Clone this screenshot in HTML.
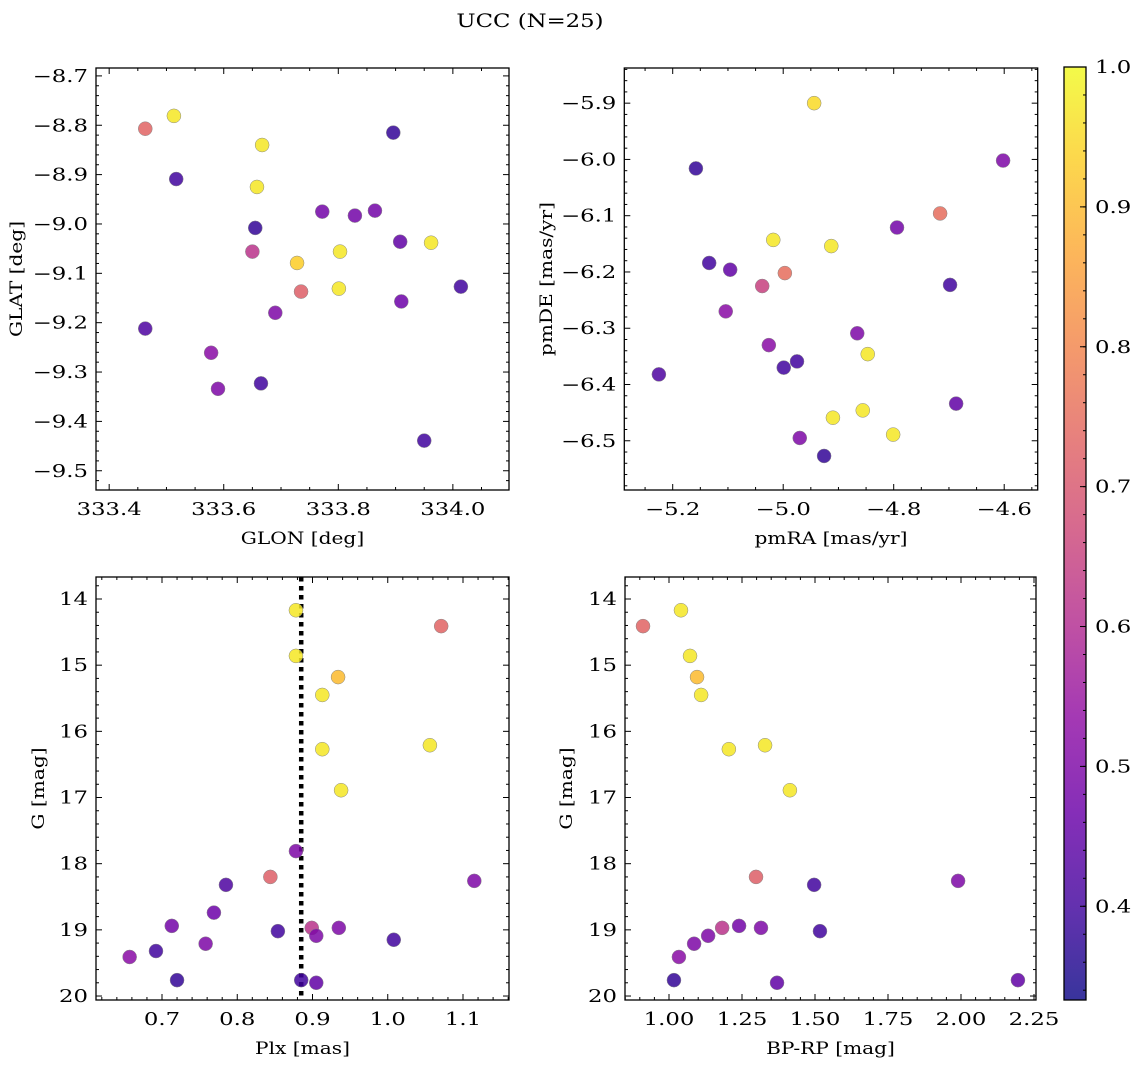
<!DOCTYPE html>
<html><head><meta charset="utf-8"><style>
html,body{margin:0;padding:0;background:#fff;}
svg{display:block;font-family:"DejaVu Serif","Liberation Serif",serif;}
</style></head><body>
<svg id="fig" width="1136" height="1067" viewBox="0 0 1136 1067" xmlns="http://www.w3.org/2000/svg">
<defs>
<linearGradient id="cbgrad" x1="0" y1="1" x2="0" y2="0">
<stop offset="0" stop-color="#0d0887"/><stop offset="0.1" stop-color="#41049d"/><stop offset="0.2" stop-color="#6a00a8"/><stop offset="0.3" stop-color="#8f0da4"/><stop offset="0.4" stop-color="#b12a90"/><stop offset="0.5" stop-color="#cc4778"/><stop offset="0.6" stop-color="#e16462"/><stop offset="0.7" stop-color="#f2844b"/><stop offset="0.8" stop-color="#fca636"/><stop offset="0.9" stop-color="#fcce25"/><stop offset="1" stop-color="#f0f921"/>
</linearGradient>
</defs>
<text id="title" x="530" y="27" font-size="19" text-anchor="middle">UCC (N=25)</text>
</svg>
<script>
// ---- data ----
const glon=[333.463,333.513,333.667,333.517,333.658,333.655,333.650,333.772,333.829,333.864,333.896,333.908,333.962,333.803,333.728,333.735,333.801,333.910,333.690,333.463,334.014,333.578,333.590,333.665,333.950];
const glat=[-8.807,-8.781,-8.840,-8.909,-8.925,-9.008,-9.056,-8.975,-8.983,-8.973,-8.815,-9.036,-9.038,-9.056,-9.079,-9.137,-9.131,-9.157,-9.180,-9.212,-9.127,-9.261,-9.334,-9.323,-9.439];
const probA=[0.73,0.97,0.97,0.40,0.97,0.38,0.62,0.48,0.48,0.48,0.38,0.45,0.97,0.97,0.93,0.72,0.97,0.47,0.50,0.42,0.40,0.52,0.50,0.40,0.40];
const pmra=[-4.944,-5.158,-4.602,-4.716,-4.794,-5.018,-4.913,-5.134,-5.096,-4.997,-5.038,-4.698,-5.104,-4.866,-5.026,-4.847,-4.975,-4.999,-5.225,-4.687,-4.856,-4.910,-4.801,-4.970,-4.926];
const pmde=[-5.900,-6.016,-6.002,-6.096,-6.121,-6.143,-6.154,-6.184,-6.196,-6.202,-6.225,-6.223,-6.270,-6.309,-6.330,-6.346,-6.359,-6.370,-6.382,-6.434,-6.446,-6.459,-6.489,-6.495,-6.527];
const probB=[0.95,0.38,0.50,0.75,0.48,0.97,0.97,0.40,0.45,0.75,0.65,0.40,0.52,0.50,0.52,0.97,0.40,0.40,0.42,0.45,0.97,0.97,0.97,0.50,0.38];
const plx=[0.878,0.878,0.934,1.071,0.913,0.913,1.056,0.938,0.878,0.844,0.785,1.115,0.769,0.713,0.854,0.899,0.935,0.905,1.008,0.758,0.692,0.657,0.720,0.885,0.905];
const gmagC=[14.17,14.86,15.18,14.41,15.45,16.27,16.21,16.89,17.81,18.20,18.32,18.26,18.74,18.94,19.02,18.97,18.97,19.09,19.15,19.21,19.32,19.41,19.76,19.76,19.80];
const probC=[0.97,0.97,0.90,0.73,0.97,0.97,0.97,0.97,0.50,0.72,0.42,0.50,0.47,0.48,0.40,0.62,0.50,0.50,0.40,0.50,0.40,0.52,0.38,0.40,0.45];
const bprp=[0.911,1.041,1.072,1.096,1.110,1.205,1.329,1.414,1.298,1.497,1.990,1.182,1.240,1.315,1.134,1.086,1.034,1.517,1.017,1.370,2.195];
const gmagD=[14.41,14.17,14.86,15.18,15.45,16.27,16.21,16.89,18.20,18.32,18.26,18.97,18.94,18.97,19.09,19.21,19.41,19.02,19.76,19.80,19.76];
const probD=[0.73,0.97,0.97,0.90,0.97,0.97,0.97,0.97,0.72,0.40,0.50,0.62,0.48,0.50,0.50,0.50,0.52,0.40,0.38,0.45,0.45];
const plxLine=[0.885];
const cbTicks=[0.4,0.5,0.6,0.7,0.8,0.9,1.0];

const NS='http://www.w3.org/2000/svg';
const svg=document.getElementById('fig');
function mk(tag,attrs,parent){const e=document.createElementNS(NS,tag);for(const k in attrs)e.setAttribute(k,attrs[k]);(parent||svg).appendChild(e);return e;}
function stretch(t,f){try{const w=t.getComputedTextLength();if(w>0){t.setAttribute('textLength',(w*f).toFixed(1));t.setAttribute('lengthAdjust','spacingAndGlyphs');}}catch(e){}}
const TICKF=17.5,TICKS=1.3,LABF=16.5,LABS=1.22;
const stops=[[13,8,135],[65,4,157],[106,0,168],[143,13,164],[177,42,144],[204,71,120],[225,100,98],[242,132,75],[252,166,54],[252,206,37],[240,249,33]];
const CMIN=0.333,CMAX=1.0;
function cmap(v){let t=(v-CMIN)/(CMAX-CMIN);t=Math.max(0,Math.min(1,t))*10;const i=Math.min(9,Math.floor(t)),f=t-i;const a=stops[i],b=stops[i+1];return 'rgb('+a.map((x,j)=>Math.round(x+(b[j]-x)*f)).join(',')+')';}
function fmt(v,d){const s=Math.abs(v).toFixed(d);return (v<-1e-9?'\u2212':'')+s;}
stretch(document.getElementById('title'),1.2);

function panel(o){
  const g=mk('g',{});
  
  
  const X=v=>o.L+(v-o.x0)/(o.x1-o.x0)*(o.R-o.L);
  const Y=v=>o.inv? o.T+(v-o.y0)/(o.y1-o.y0)*(o.B-o.T) : o.B-(v-o.y0)/(o.y1-o.y0)*(o.B-o.T);
  const fr=mk('rect',{x:o.L,y:o.T,width:o.R-o.L,height:o.B-o.T,fill:'none',stroke:'#000','stroke-width':1.3},g);
  
  
  const eps=1e-6;
  for(let v=Math.ceil(o.x0/o.xmin-eps)*o.xmin; v<=o.x1+eps; v+=o.xmin){
    const major=Math.abs(v/o.xmaj-Math.round(v/o.xmaj))<1e-3;const len=major?6:3;const x=X(v);
    mk('line',{x1:x,x2:x,y1:o.B,y2:o.B-len,stroke:'#000','stroke-width':1},g);
    mk('line',{x1:x,x2:x,y1:o.T,y2:o.T+len,stroke:'#000','stroke-width':1},g);
    if(major){const t=mk('text',{x:x,y:o.B+25,'font-size':TICKF,'text-anchor':'middle'},g);t.textContent=fmt(v,o.xd);
      
      
      stretch(t,TICKS);}
  }
  const ylo=Math.min(o.y0,o.y1),yhi=Math.max(o.y0,o.y1);
  for(let v=Math.ceil(ylo/o.ymin-eps)*o.ymin; v<=yhi+eps; v+=o.ymin){
    const major=Math.abs(v/o.ymaj-Math.round(v/o.ymaj))<1e-3;const len=major?6:3;const y=Y(v);
    mk('line',{x1:o.L,x2:o.L+len,y1:y,y2:y,stroke:'#000','stroke-width':1},g);
    mk('line',{x1:o.R,x2:o.R-len,y1:y,y2:y,stroke:'#000','stroke-width':1},g);
    if(major){const t=mk('text',{x:o.L-8,y:y+6,'font-size':TICKF,'text-anchor':'end'},g);t.textContent=fmt(v,o.yd);
      
      
      stretch(t,TICKS);}
  }
  const xl=mk('text',{x:(o.L+o.R)/2,y:o.B+54,'font-size':LABF,'text-anchor':'middle'},g);xl.textContent=o.xlab;
  
  
  stretch(xl,LABS);
  const yx=o.ylx,yy=(o.T+o.B)/2;
  const yl=mk('text',{x:yx,y:yy,'font-size':LABF,'text-anchor':'middle',transform:'rotate(-90 '+yx+' '+yy+')'},g);yl.textContent=o.ylab;
  
  
  stretch(yl,LABS);
  if(o.vline){o.vline.forEach(v=>{const l=mk('line',{x1:X(v),x2:X(v),y1:o.T,y2:o.B,stroke:'#000','stroke-width':4.5,'stroke-dasharray':'4.5 4.5'},g);
    
    });}
  o.xs.forEach((xv,i)=>{const c=mk('circle',{cx:X(xv),cy:Y(o.ys[i]),r:7,fill:cmap(o.cs[i]),'fill-opacity':0.85,stroke:'#888','stroke-width':0.5},g);
    
    });
}
panel({name:'glon-glat-panel',L:96,R:509,T:68,B:490,x0:333.377,x1:334.098,y0:-9.539,y1:-8.684,xmaj:0.2,xmin:0.05,ymaj:0.1,ymin:0.02,xd:1,yd:1,xlab:'GLON [deg]',ylab:'GLAT [deg]',ylx:22,xs:glon,ys:glat,cs:probA});
panel({name:'pm-panel',L:624.3,R:1037.7,T:68,B:490,x0:-5.2-(672.7-624.3)/552.5,x1:-5.2+(1037.7-672.7)/552.5,y0:-6.5875,y1:-5.8375,xmaj:0.2,xmin:0.05,ymaj:0.1,ymin:0.02,xd:1,yd:1,xlab:'pmRA [mas/yr]',ylab:'pmDE [mas/yr]',ylx:552,xs:pmra,ys:pmde,cs:probB});
panel({name:'plx-g-panel',L:96,R:509,T:577,B:1000,x0:0.7-66/752.5,x1:0.7+347/752.5,y0:14-22/66.17,y1:14+401/66.17,inv:true,xmaj:0.1,xmin:0.02,ymaj:1,ymin:0.2,xd:1,yd:0,xlab:'Plx [mas]',ylab:'G [mag]',ylx:44,xs:plx,ys:gmagC,cs:probC,vline:plxLine});
panel({name:'cmd-panel',L:625,R:1036,T:577,B:1000,x0:1-44/292,x1:1+367/292,y0:14-22/66.17,y1:14+401/66.17,inv:true,xmaj:0.25,xmin:0.05,ymaj:1,ymin:0.2,xd:2,yd:0,xlab:'BP-RP [mag]',ylab:'G [mag]',ylx:572,xs:bprp,ys:gmagD,cs:probD});

const cb=mk('g',{});


const CT=67,CB=1000,CL=1064,CR=1086;
const CY=v=>CB-(v-CMIN)/(CMAX-CMIN)*(CB-CT);
mk('rect',{x:CL,y:CT,width:CR-CL,height:CB-CT,fill:'url(#cbgrad)','fill-opacity':0.82},cb);
mk('rect',{x:CL,y:CT,width:CR-CL,height:CB-CT,fill:'none',stroke:'#000','stroke-width':1.3},cb);
for(let v=0.34;v<=1.0001;v+=0.02){const y=CY(v);mk('line',{x1:CR,x2:CR-3,y1:y,y2:y,stroke:'#000','stroke-width':1},cb);}
cbTicks.forEach(v=>{const y=CY(v);mk('line',{x1:CR,x2:CR-6,y1:y,y2:y,stroke:'#000','stroke-width':1},cb);
  const t=mk('text',{x:CR+9,y:y+6,'font-size':TICKF},cb);t.textContent=v.toFixed(1);
  
  
  stretch(t,TICKS);});
</script>
</body></html>
